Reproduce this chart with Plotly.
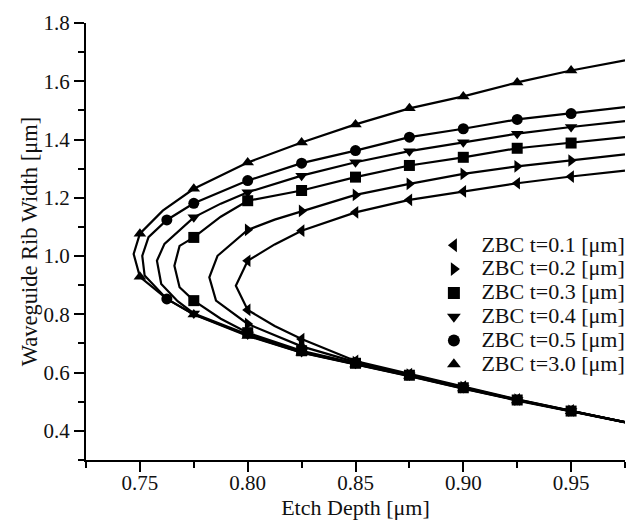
import plotly.graph_objects as go

# ---- data: each series is a curve (etch depth, rib width) ordered along the curve
names = ["ZBC t=0.1 [μm]", "ZBC t=0.2 [μm]", "ZBC t=0.3 [μm]",
         "ZBC t=0.4 [μm]", "ZBC t=0.5 [μm]", "ZBC t=3.0 [μm]"]
symbols = ["triangle-left", "triangle-right", "square",
           "triangle-down", "circle", "triangle-up"]

# t = 0.1
x01 = [0.975, 0.95, 0.925, 0.90, 0.875, 0.85, 0.825, 0.8125, 0.80, 0.7945, 0.80, 0.8125, 0.825, 0.85, 0.875, 0.90, 0.925, 0.95, 0.975]
y01 = [1.293, 1.273, 1.250, 1.222, 1.193, 1.150, 1.087, 1.040, 0.984, 0.898, 0.815, 0.760, 0.715, 0.640, 0.595, 0.552, 0.508, 0.470, 0.430]
m01 = [0, 1, 1, 1, 1, 1, 1, 0, 1, 0, 1, 0, 1, 1, 1, 1, 1, 1, 0]
# t = 0.2
x02 = [0.975, 0.95, 0.925, 0.90, 0.875, 0.85, 0.825, 0.8125, 0.80, 0.786, 0.7822, 0.7853, 0.80, 0.825, 0.85, 0.875, 0.90, 0.925, 0.95, 0.975]
y02 = [1.349, 1.328, 1.308, 1.282, 1.248, 1.210, 1.155, 1.125, 1.090, 1.001, 0.927, 0.847, 0.767, 0.690, 0.636, 0.593, 0.550, 0.507, 0.469, 0.430]
m02 = [0, 1, 1, 1, 1, 1, 1, 0, 1, 0, 0, 0, 1, 1, 1, 1, 1, 1, 1, 0]
# t = 0.3
x03 = [0.975, 0.95, 0.925, 0.90, 0.875, 0.85, 0.825, 0.80, 0.7875, 0.775, 0.7684, 0.766, 0.7684, 0.775, 0.7875, 0.80, 0.825, 0.85, 0.875, 0.90, 0.925, 0.95, 0.975]
y03 = [1.408, 1.388, 1.370, 1.339, 1.311, 1.271, 1.225, 1.190, 1.135, 1.064, 1.035, 0.967, 0.893, 0.847, 0.785, 0.737, 0.675, 0.632, 0.591, 0.548, 0.506, 0.468, 0.430]
m03 = [0, 1, 1, 1, 1, 1, 1, 1, 0, 1, 0, 0, 0, 1, 0, 1, 1, 1, 1, 1, 1, 1, 0]
# t = 0.4
x04 = [0.975, 0.95, 0.925, 0.90, 0.875, 0.85, 0.825, 0.80, 0.7875, 0.775, 0.7614, 0.7579, 0.7599, 0.7675, 0.775, 0.80, 0.825, 0.85, 0.875, 0.90, 0.925, 0.95, 0.975]
y04 = [1.463, 1.443, 1.420, 1.391, 1.360, 1.322, 1.276, 1.219, 1.180, 1.133, 1.042, 0.984, 0.904, 0.845, 0.803, 0.731, 0.671, 0.630, 0.590, 0.547, 0.506, 0.468, 0.430]
m04 = [0, 1, 1, 1, 1, 1, 1, 1, 0, 1, 0, 0, 0, 0, 1, 1, 1, 1, 1, 1, 1, 1, 0]
# t = 0.5
x05 = [0.975, 0.95, 0.925, 0.90, 0.875, 0.85, 0.825, 0.80, 0.775, 0.7625, 0.754, 0.7511, 0.7522, 0.7625, 0.775, 0.80, 0.825, 0.85, 0.875, 0.90, 0.925, 0.95, 0.975]
y05 = [1.511, 1.489, 1.469, 1.437, 1.408, 1.362, 1.319, 1.259, 1.181, 1.124, 1.065, 1.001, 0.933, 0.853, 0.800, 0.728, 0.669, 0.629, 0.589, 0.546, 0.505, 0.468, 0.430]
m05 = [0, 1, 1, 1, 1, 1, 1, 1, 1, 1, 0, 0, 0, 1, 0, 0, 0, 0, 0, 0, 0, 0, 0]
# t = 3.0
x30 = [0.975, 0.95, 0.925, 0.90, 0.875, 0.85, 0.825, 0.80, 0.775, 0.7606, 0.75, 0.7471, 0.75, 0.7625, 0.775, 0.80, 0.825, 0.85, 0.875, 0.90, 0.925, 0.95, 0.975]
y30 = [1.672, 1.637, 1.596, 1.548, 1.507, 1.452, 1.390, 1.321, 1.231, 1.156, 1.077, 1.007, 0.929, 0.853, 0.799, 0.726, 0.668, 0.628, 0.588, 0.545, 0.504, 0.467, 0.429]
m30 = [0, 1, 1, 1, 1, 1, 1, 1, 1, 0, 1, 0, 1, 0, 1, 1, 1, 1, 1, 1, 1, 1, 0]

series_x = [x01, x02, x03, x04, x05, x30]
series_y = [y01, y02, y03, y04, y05, y30]
series_m = [m01, m02, m03, m04, m05, m30]

x_ticks = [0.75, 0.80, 0.85, 0.90, 0.95]
y_ticks = [0.4, 0.6, 0.8, 1.0, 1.2, 1.4, 1.6, 1.8]

FONT = "Liberation Serif, Times New Roman, serif"
TXT = "#111"

fig = go.Figure()
for xs, ys in zip(series_x, series_y):
    fig.add_trace(go.Scatter(x=xs, y=ys, mode="lines",
                             line=dict(color="black", width=2.2),
                             showlegend=False, hoverinfo="skip"))
for name, sym, xs, ys, ms in zip(names, symbols, series_x, series_y, series_m):
    mx = [a for a, k in zip(xs, ms) if k]
    my = [b for b, k in zip(ys, ms) if k]
    fig.add_trace(go.Scatter(x=mx, y=my, mode="markers",
                             name='<span style="font-size:22px">' + name + '</span>',
                             marker=dict(symbol=sym, size=11, color="black",
                                         line=dict(width=0))))

axis_common = dict(showline=True, linecolor="black", linewidth=2,
                   ticks="outside", ticklen=10, tickwidth=2, tickcolor="black",
                   showgrid=False, zeroline=False, mirror=False,
                   tickfont=dict(family=FONT, size=21, color=TXT))

fig.update_xaxes(range=[0.725, 0.975], tickvals=x_ticks,
                 ticktext=[f"{v:.2f}" for v in x_ticks],
                 ticklabelstandoff=-7,
                 minor=dict(dtick=0.025, tick0=0.725, ticks="outside", ticklen=6,
                            tickwidth=2, tickcolor="black"),
                 title=dict(text="Etch Depth [μm]", font=dict(family=FONT, size=22, color=TXT),
                            standoff=2),
                 **axis_common)
fig.update_yaxes(range=[0.3, 1.8], tickvals=y_ticks,
                 ticktext=[f"{v:.1f}" for v in y_ticks],
                 minor=dict(dtick=0.1, tick0=0.3, ticks="outside", ticklen=6,
                            tickwidth=2, tickcolor="black"),
                 title=dict(text="Waveguide Rib Width [μm]", font=dict(family=FONT, size=22.5, color=TXT),
                            standoff=0),
                 **axis_common)

fig.update_layout(
    width=635, height=522,
    margin=dict(l=86, r=5, t=23, b=62),
    plot_bgcolor="white", paper_bgcolor="white",
    legend=dict(x=1.01, xanchor="right", y=0.53, yanchor="top",
                bgcolor="rgba(0,0,0,0)", font=dict(family=FONT, size=16, color=TXT),
                itemsizing="constant", itemwidth=45),
)

fig.write_html("out.html")
